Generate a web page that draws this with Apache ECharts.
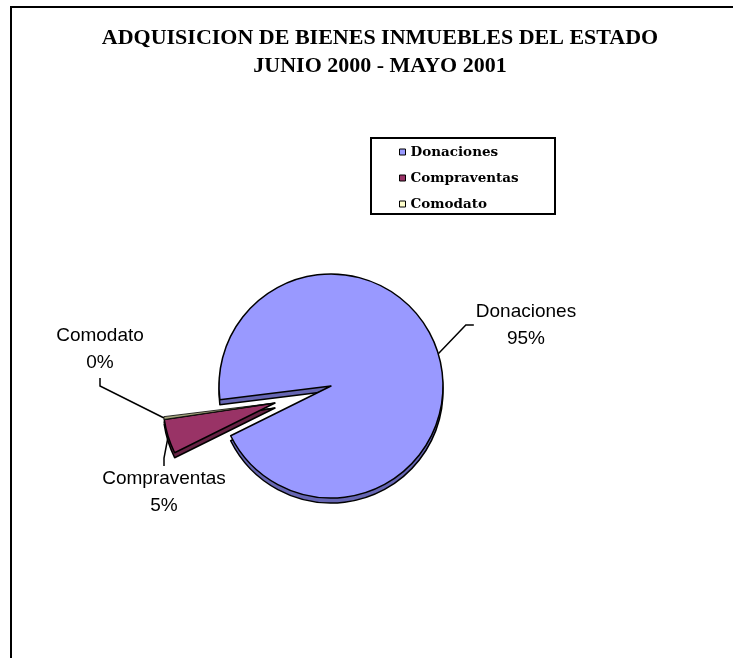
<!DOCTYPE html>
<html>
<head>
<meta charset="utf-8">
<script src="https://cdn.jsdelivr.net/npm/echarts@6/dist/echarts.min.js"></script>
<style>
  html, body { margin: 0; padding: 0; background: #fff; }
  #chart { width: 733px; height: 658px; }
</style>
</head>
<body>
<div id="chart"></div>
<script>
// categories and values (share of acquisitions)
const categories = ["Donaciones", "Compraventas", "Comodato"];
const values = [95, 5, 0.4];
const exploded = [false, true, true];
const faceColors = ["#9999FF", "#993366", "#A3A37C"];
const legendColors = ["#9999FF", "#993366", "#FFFFCC"];
const sideColors = ["#6666B3", "#662244", "#7A7A5C"];

// where each label sits (center of the two-line block) and which side the leader enters
const labelPos = [[526, 325], [164, 492], [100, 349]];
const labelSide = ["left", "top", "bottom"];

const chart = echarts.init(document.getElementById("chart"));

const pieCenter = [331, 386];
const explodeCenter = [275, 403];
const depth = 5;

// one ring holds either the exploded or the non-exploded slices,
// the rest are left transparent so angles stay the same
function pieData(colors, wantExploded, withLabel) {
  return categories.map((name, i) => {
    const visible = exploded[i] === wantExploded;
    return {
      name: name,
      value: values[i],
      itemStyle: visible
        ? { color: colors[i], borderWidth: values[i] < 1 ? 0.8 : 1.5 }
        : { color: "transparent", borderWidth: 0 },
      label: { show: visible && withLabel },
      labelLine: { show: visible && withLabel },
    };
  });
}

function placeLabel(p) {
  const i = p.dataIndex;
  const cx = labelPos[i][0];
  const cy = labelPos[i][1];
  const w = p.labelRect.width;
  const h = p.labelRect.height;
  const start = p.labelLinePoints ? p.labelLinePoints[0] : [cx, cy];
  let end, bend;
  if (labelSide[i] === "left") {
    end = [cx - w / 2 - 2, cy];
    bend = [end[0] - 8, cy];
  } else if (labelSide[i] === "top") {
    end = [cx, cy - h / 2 + 1];
    bend = [cx, end[1] - 8];
  } else {
    end = [cx, cy + h / 2 + 2];
    bend = [cx, end[1] + 8];
  }
  return {
    x: cx,
    y: cy,
    align: "center",
    verticalAlign: "middle",
    labelLinePoints: [start, bend, end],
  };
}

function pieSeries(center, colors, wantExploded, withLabel, z) {
  return {
    type: "pie",
    z: z,
    silent: true,
    center: center,
    radius: 112,
    startAngle: 187,
    clockwise: true,
    avoidLabelOverlap: false,
    itemStyle: { borderColor: "#000", borderWidth: 1.5 },
    emphasis: { disabled: true },
    label: {
      formatter: (p) => p.name + "\n" + Math.round(p.percent) + "%",
      fontFamily: "Liberation Sans",
      fontSize: 19,
      lineHeight: 27,
      color: "#000",
      align: "center",
    },
    labelLine: {
      length: 10,
      length2: 8,
      lineStyle: { color: "#000", width: 1.5 },
    },
    labelLayout: withLabel ? placeLabel : null,
    data: pieData(colors, wantExploded, withLabel),
  };
}

const option = {
  animation: false,
  backgroundColor: "#fff",
  title: {
    text: "ADQUISICION DE BIENES INMUEBLES DEL ESTADO\nJUNIO 2000 - MAYO 2001",
    left: 380,
    top: 24,
    padding: 0,
    textAlign: "center",
    textStyle: {
      fontFamily: "Liberation Serif",
      fontWeight: "bold",
      fontSize: 22,
      lineHeight: 28,
      color: "#000",
    },
  },
  legend: {
    orient: "vertical",
    left: 399,
    top: 144,
    padding: 0,
    itemGap: 10,
    itemWidth: 6,
    itemHeight: 6,
    icon: "rect",
    selectedMode: false,
    itemStyle: { borderColor: "#000", borderWidth: 1 },
    textStyle: {
      fontFamily: "DejaVu Serif",
      fontWeight: "bold",
      fontSize: 13.5,
      lineHeight: 16,
      color: "#000",
    },
    data: categories.map((name, i) => ({
      name: name,
      itemStyle: { color: legendColors[i] },
    })),
  },
  graphic: [
    {
      type: "rect",
      shape: { x: 11, y: 7, width: 800, height: 800 },
      style: { fill: "none", stroke: "#000", lineWidth: 2 },
      silent: true,
    },
    {
      type: "rect",
      shape: { x: 371, y: 138, width: 184, height: 76 },
      style: { fill: "none", stroke: "#000", lineWidth: 2 },
      silent: true,
    },
  ],
  series: [
    pieSeries(pieCenter, faceColors, false, true, 4),
    pieSeries(explodeCenter, faceColors, true, true, 4),
    pieSeries([pieCenter[0], pieCenter[1] + depth], sideColors, false, false, 2),
    pieSeries([explodeCenter[0], explodeCenter[1] + depth], sideColors, true, false, 2),
  ],
};

chart.setOption(option);
</script>
</body>
</html>
